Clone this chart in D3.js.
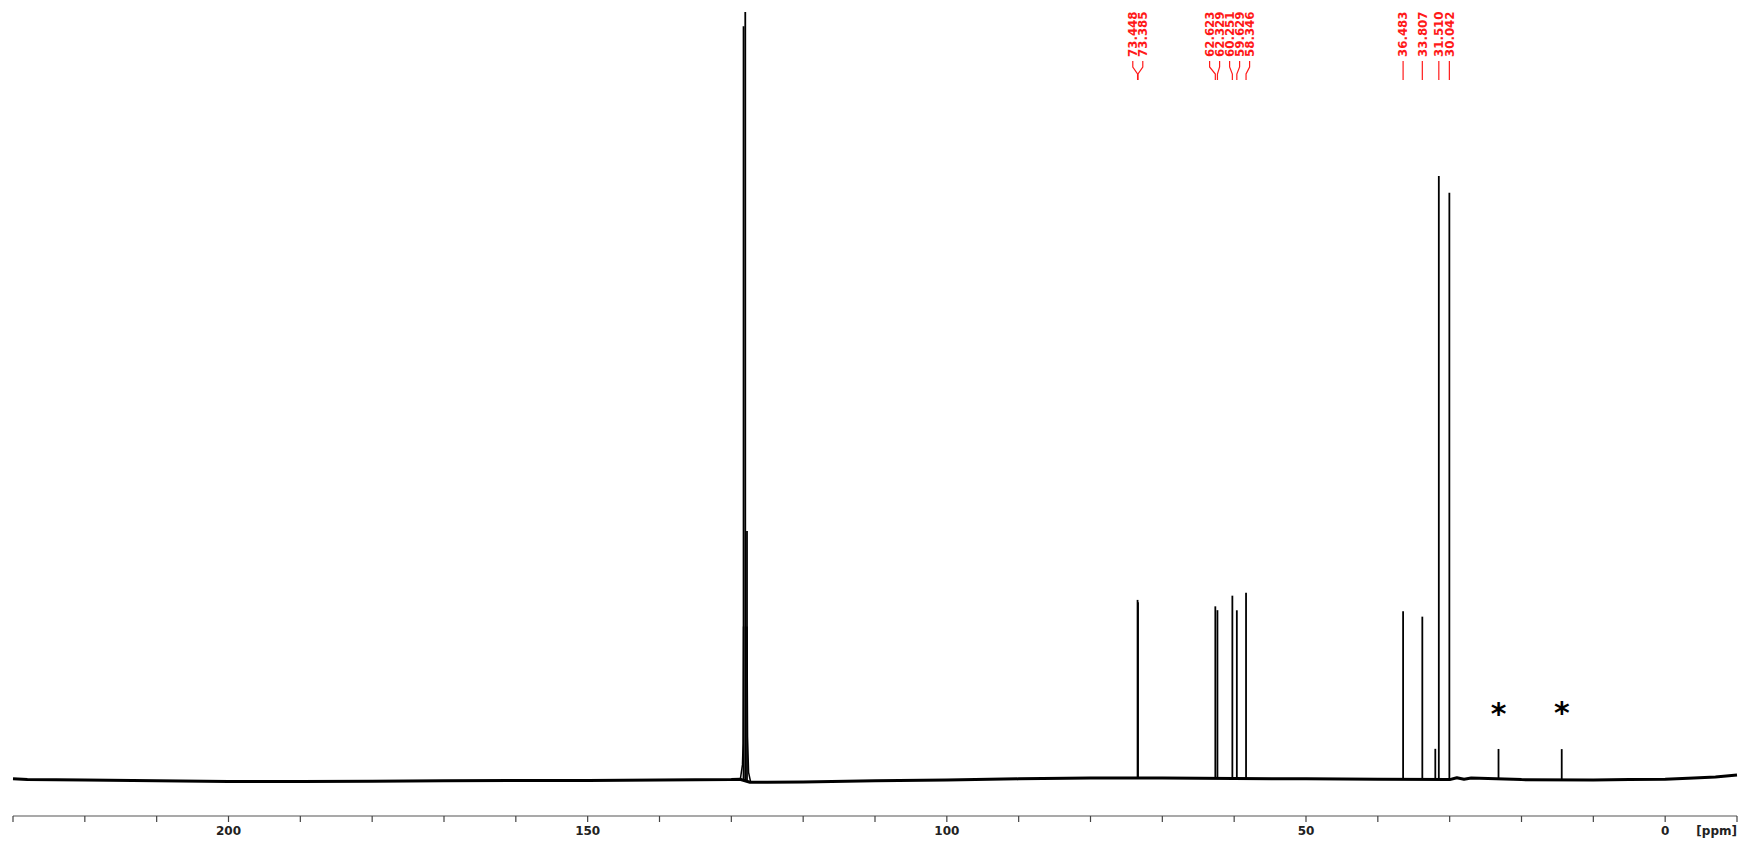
<!DOCTYPE html>
<html>
<head>
<meta charset="utf-8">
<script src="https://cdn.jsdelivr.net/npm/d3@7"></script>
<style>
  html, body { margin: 0; padding: 0; background: #ffffff; }
  svg { display: block; }
</style>
</head>
<body>
<svg id="chart" width="1743" height="841"></svg>
<script>
// 13C spectrum: chemical shift (ppm) and relative intensity of each line
const peakShifts     = [128.30, 128.06, 127.82, 73.448, 73.385, 62.623, 62.329, 60.251, 59.629, 58.346, 36.483, 33.807, 32.00, 31.510, 30.042, 23.20, 14.40];
const peakHeights    = [98.2,   130,    32.6,   23.2,   22.9,   22.4,   21.9,   23.8,   21.9,   24.2,   21.9,   21.2,   4.0,   78.6,   76.4,   3.9,   4.0];

// Lines that carry a printed shift value
const labelShifts = [73.448, 73.385, 62.623, 62.329, 60.251, 59.629, 58.346, 36.483, 33.807, 31.510, 30.042];

// Lines flagged as impurities
const starShifts = [23.20, 14.40];

// Baseline drift across the sweep (ppm, intensity offset)
const baselinePpm    = [230, 228, 220, 210, 200, 190, 180, 170, 160, 150, 140, 130, 128.8, 127.4, 125, 120, 110, 100, 90, 80, 70, 60, 50, 40, 30, 29, 28, 27, 20, 10, 5, 0, -4, -7, -10];
const baselineOffset = [0.15, 0.05, 0.0, -0.1, -0.2, -0.2, -0.15, -0.1, -0.05, -0.05, 0.0, 0.05, 0.1, -0.3, -0.3, -0.25, -0.1, 0.0, 0.15, 0.25, 0.25, 0.2, 0.15, 0.1, 0.05, 0.3, 0.1, 0.25, 0.05, 0.0, 0.05, 0.1, 0.25, 0.4, 0.65];

// Axis ticks
const majorTicks = [200, 150, 100, 50, 0];
const minorTicks = [230, 220, 210, 200, 190, 180, 170, 160, 150, 140, 130, 120, 110, 100, 90, 80, 70, 60, 50, 40, 30, 20, 10, 0, -10];
const axisUnit = "[ppm]";

const svg = d3.select("#chart");

const x = d3.scaleLinear().domain([230, -10]).range([13, 1737]);
const y = d3.scaleLinear().domain([0, 100]).range([780, 12]);

const baseAt = d3.scaleLinear().domain(baselinePpm).range(baselineOffset);

// plot clip (tall solvent line is cut at the top edge)
svg.append("defs").append("clipPath").attr("id", "plotClip")
  .append("rect").attr("x", 0).attr("y", 12).attr("width", 1743).attr("height", 800);

const plot = svg.append("g").attr("clip-path", "url(#plotClip)");

// baseline
const baseData = baselinePpm.map((p, i) => [p, baselineOffset[i]]);
plot.append("path")
  .datum(baseData)
  .attr("fill", "none")
  .attr("stroke", "#000")
  .attr("stroke-width", 3)
  .attr("stroke-linejoin", "round")
  .attr("d", d3.line().x(d => x(d[0])).y(d => y(d[1])));

// solvent foot
plot.append("path")
  .datum([[128.75, baseAt(128.75)], [128.45, 2.0], [128.36, 4.8], [128.30, 20]])
  .attr("fill", "none").attr("stroke", "#000").attr("stroke-width", 1.5)
  .attr("d", d3.line().x(d => x(d[0])).y(d => y(d[1])));
plot.append("path")
  .datum([[127.82, 20], [127.74, 5.6], [127.60, 1.0], [127.3, baseAt(127.3)]])
  .attr("fill", "none").attr("stroke", "#000").attr("stroke-width", 1.5)
  .attr("d", d3.line().x(d => x(d[0])).y(d => y(d[1])));

// spectral lines
const peaks = peakShifts.map((p, i) => ({ ppm: p, h: peakHeights[i] }));
plot.selectAll("line.peak")
  .data(peaks)
  .join("line")
  .attr("class", "peak")
  .attr("x1", d => x(d.ppm)).attr("x2", d => x(d.ppm))
  .attr("y1", d => y(baseAt(d.ppm)))
  .attr("y2", d => y(baseAt(d.ppm) + d.h))
  .attr("stroke", "#000")
  .attr("stroke-width", 1.8);

// impurity markers
svg.selectAll("text.star")
  .data(starShifts)
  .join("text")
  .attr("class", "star")
  .attr("x", d => x(d))
  .attr("y", d => y(peakHeights[peakShifts.indexOf(d)]) - 26)
  .attr("text-anchor", "middle")
  .attr("font-family", "DejaVu Sans")
  .attr("font-weight", "bold")
  .attr("font-size", 30)
  .attr("fill", "#000")
  .text("*");

// peak labels: spread so neighbours stay 10 px apart
const minGap = 10;
const lab = labelShifts.map(p => ({ ppm: p, px: x(p), lx: x(p) })).sort((a, b) => a.px - b.px);
for (let iter = 0; iter < 200; iter++) {
  let moved = false;
  for (let i = 0; i < lab.length - 1; i++) {
    const gap = lab[i + 1].lx - lab[i].lx;
    if (gap < minGap - 1e-6) {
      const push = (minGap - gap) / 2;
      lab[i].lx -= push;
      lab[i + 1].lx += push;
      moved = true;
    }
  }
  if (!moved) break;
}

const red = "#ff1a1a";
const labelG = svg.append("g");
labelG.selectAll("path.leader")
  .data(lab)
  .join("path")
  .attr("class", "leader")
  .attr("fill", "none")
  .attr("stroke", red)
  .attr("stroke-width", 1.2)
  .attr("d", d => `M${d.lx},61 L${d.lx},67 L${d.px},74 L${d.px},80`);

labelG.selectAll("text.shift")
  .data(lab)
  .join("text")
  .attr("class", "shift")
  .attr("transform", d => `translate(${d.lx},57) rotate(-90)`)
  .attr("dy", "0.36em")
  .attr("text-anchor", "start")
  .attr("font-family", "DejaVu Sans")
  .attr("font-weight", "bold")
  .attr("font-size", 11.8)
  .attr("fill", red)
  .text(d => d.ppm.toFixed(3));

// x axis
const axisY = 816;
const axisG = svg.append("g").attr("transform", `translate(0,${axisY})`);
axisG.append("line")
  .attr("x1", x(230)).attr("x2", x(-10))
  .attr("stroke", "#555").attr("stroke-width", 1.2);
axisG.selectAll("line.tick")
  .data(minorTicks)
  .join("line")
  .attr("class", "tick")
  .attr("x1", d => x(d)).attr("x2", d => x(d))
  .attr("y1", 0).attr("y2", 6)
  .attr("stroke", "#444").attr("stroke-width", 1.2);
axisG.selectAll("text.tl")
  .data(majorTicks)
  .join("text")
  .attr("class", "tl")
  .attr("x", d => x(d))
  .attr("y", 19)
  .attr("text-anchor", "middle")
  .attr("font-family", "DejaVu Sans")
  .attr("font-weight", "bold")
  .attr("font-size", 12)
  .attr("fill", "#222")
  .text(d => d);
axisG.append("text")
  .attr("x", x(-10))
  .attr("y", 19)
  .attr("text-anchor", "end")
  .attr("font-family", "DejaVu Sans")
  .attr("font-weight", "bold")
  .attr("font-size", 12)
  .attr("fill", "#222")
  .text(axisUnit);
</script>
</body>
</html>
